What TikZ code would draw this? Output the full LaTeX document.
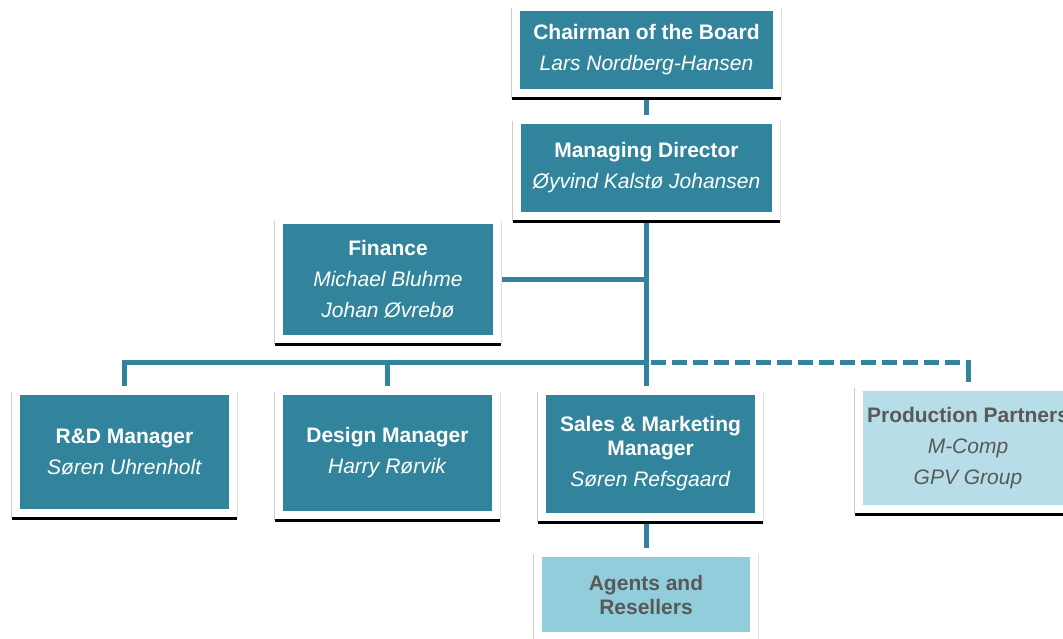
\documentclass[tikz,border=0pt]{standalone}
\usepackage{fontspec}
\setmainfont{Liberation Sans}

\definecolor{boxteal}{HTML}{31849B}
\definecolor{boxlight}{HTML}{92CDDC}
\definecolor{boxpale}{HTML}{B7DEE8}
\definecolor{boxtext}{HTML}{595959}

\pgfdeclarelayer{lines}
\pgfdeclarelayer{frames}
\pgfsetlayers{lines,frames,main}

\begin{document}
\begin{tikzpicture}[x=1pt,y=-1pt,
    link/.style={draw=boxteal, line width=5pt}]

        \useasboundingbox (0,0) rectangle (1063,639);

        \begin{scope}[every node/.style={align=center, inner sep=0pt, fill=boxteal, text=white,
            font=\fontsize{21}{24}\selectfont}]
          \node[minimum width=253, minimum height=78]  (1) at (646.5,50)  {\textbf{Chairman of the Board}\\[7pt]\textit{Lars Nordberg-Hansen}};
          \node[minimum width=251, minimum height=88]  (2) at (646.5,168) {\textbf{Managing Director}\\[7pt]\textit{Øyvind Kalstø Johansen}};
          \node[minimum width=210, minimum height=111] (3) at (388,279.5) {\textbf{Finance}\\[7pt]\textit{Michael Bluhme}\\[7pt]\textit{Johan Øvrebø}};
          \node[minimum width=209, minimum height=114] (4) at (124.5,452) {\textbf{R\&D Manager}\\[7pt]\textit{Søren Uhrenholt}};
          \node[minimum width=209, minimum height=116] (5) at (387.5,453) {\textbf{Design Manager}\\[7pt]\textit{Harry Rørvik}};
          \node[minimum width=209, minimum height=118] (6) at (650.5,454) {\textbf{Sales \& Marketing}\\\textbf{Manager}\\[7pt]\textit{Søren Refsgaard}};
          \node[minimum width=210, minimum height=114, fill=boxpale, text=boxtext]  (7) at (968,448)   {\textbf{Production Partners}\\[7pt]\textit{M-Comp}\\[7pt]\textit{GPV Group}};
          \node[minimum width=208, minimum height=75, fill=boxlight, text=boxtext]  (8) at (646,594.5) {\textbf{Agents and}\\\textbf{Resellers}};
        \end{scope}

        % white frames with a dark foot
        \begin{pgfonlayer}{frames}
          \foreach \n in {1,...,8} {
            \fill[white] ([xshift=-8pt,yshift=9pt]\n.north west) rectangle ([xshift=8pt,yshift=-9pt]\n.south east);
            \draw[black!20, line width=1pt] ([xshift=-8pt,yshift=3pt]\n.north west) -- ([xshift=-8pt,yshift=-9pt]\n.south west);
            \draw[black!12, line width=1pt] ([xshift=8pt,yshift=3pt]\n.north east) -- ([xshift=8pt,yshift=-9pt]\n.south east);
            \draw[black, line width=3pt] ([xshift=-8pt,yshift=-9pt]\n.south west) -- ([xshift=8pt,yshift=-9pt]\n.south east);
          }
        \end{pgfonlayer}

        \begin{pgfonlayer}{lines}
          \coordinate (bus) at (0,362);
          \path[link] (1) -- (2);
          \path[link] (2) -- (2 |- 6);
          \path[link] (3) -- (3 -| 2);
          \path[link] (4) |- (bus -| 2);
          \path[link] (5) -- (5 |- bus);
          \path[link, dash pattern=on 15pt off 6pt] ([xshift=4pt]bus -| 2) -- ([xshift=2.5pt]bus -| 7);
          \path[link] ([yshift=2.5pt]bus -| 7) -- (7);
          \path[link] (8 |- 6) -- (8);
        \end{pgfonlayer}

      \end{tikzpicture}
\end{document}
